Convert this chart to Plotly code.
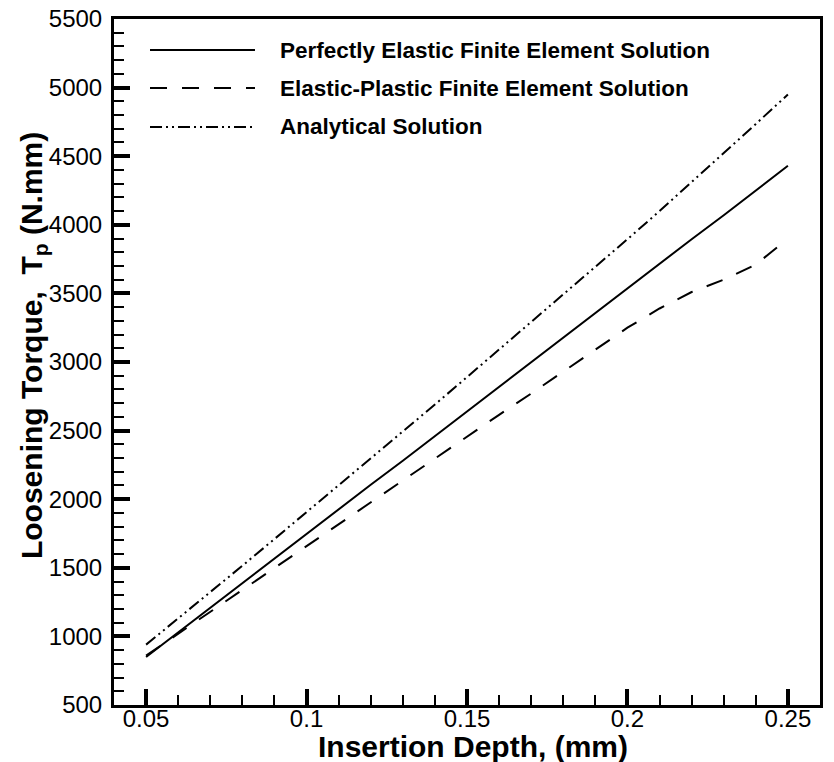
import plotly.graph_objects as go

# insertion depth (mm)
depth = [0.05, 0.06, 0.07, 0.08, 0.09, 0.10, 0.11, 0.12, 0.13, 0.14, 0.15,
         0.16, 0.17, 0.18, 0.19, 0.20, 0.21, 0.22, 0.23, 0.24, 0.25]

# loosening torque (N.mm)
elastic_fe = [850, 1030, 1210, 1390, 1565, 1745, 1925, 2105, 2280, 2460, 2640,
              2820, 3000, 3175, 3355, 3535, 3715, 3895, 4070, 4250, 4430]
elastic_plastic_fe = [860, 1020, 1180, 1340, 1500, 1655, 1815, 1975, 2135, 2295, 2455,
                      2615, 2770, 2930, 3090, 3250, 3390, 3510, 3600, 3710, 3900]
analytical = [940, 1130, 1325, 1515, 1710, 1905, 2100, 2295, 2495, 2690, 2890,
              3090, 3290, 3490, 3690, 3895, 4100, 4310, 4520, 4735, 4950]

series_names = ["Perfectly Elastic Finite Element Solution",
                "Elastic-Plastic Finite Element Solution",
                "Analytical Solution"]

FONT = "Arial, Liberation Sans, sans-serif"
DASHES = ["solid", "17px,15px", "12px,4px,2px,4px,2px,4px"]

fig = go.Figure()
for name, ys, dash in zip(series_names, [elastic_fe, elastic_plastic_fe, analytical], DASHES):
    fig.add_trace(go.Scatter(x=depth, y=ys, mode="lines", name=name, showlegend=False,
                             line=dict(color="black", width=2, dash=dash)))

# hand-made legend with long line samples
row_y = [0.9548, 0.8994, 0.8426]
for name, dash, y in zip(series_names, DASHES, row_y):
    fig.add_shape(type="line", xref="paper", yref="paper", x0=0.0510, x1=0.1997, y0=y, y1=y,
                  line=dict(color="black", width=2, dash=dash))
    fig.add_annotation(xref="paper", yref="paper", x=0.2326, y=y, text=f"<b>{name}</b>",
                       showarrow=False, xanchor="left", yanchor="middle",
                       font=dict(family=FONT, size=22.5, color="black"))

# axis titles
fig.add_annotation(xref="paper", yref="paper", x=0.5085, y=-0.0598, text="<b>Insertion Depth, (mm)</b>",
                   showarrow=False, xanchor="center", yanchor="middle",
                   font=dict(family=FONT, size=30, color="black"))
fig.add_annotation(xref="paper", yref="paper", x=-0.1147, y=0.5233, textangle=-90,
                   text="<b>Loosening Torque,  T<sub>p</sub> (N.mm)</b>",
                   showarrow=False, xanchor="center", yanchor="middle",
                   font=dict(family=FONT, size=30, color="black"))

axis_common = dict(
    showline=True, linewidth=3, linecolor="black", mirror=True,
    ticks="inside", ticklen=16, tickwidth=4, tickcolor="black",
    showgrid=False, zeroline=False, ticklabeloverflow="allow",
    tickfont=dict(family=FONT, size=24, color="black"),
)

fig.update_xaxes(
    range=[0.04, 0.26], tick0=0.05, dtick=0.05, ticklabelstandoff=-10,
    minor=dict(ticks="inside", ticklen=10, tickwidth=2, tickcolor="black", dtick=0.01, showgrid=False),
    **axis_common,
)
fig.update_yaxes(
    range=[500, 5500], tick0=500, dtick=500, ticklabelstandoff=4,
    minor=dict(ticks="inside", ticklen=10, tickwidth=2, tickcolor="black", dtick=100, showgrid=False),
    **axis_common,
)

fig.update_layout(
    width=834, height=762,
    margin=dict(l=106, r=22, t=11, b=65, autoexpand=False),
    plot_bgcolor="white", paper_bgcolor="white",
)

fig.write_html("out.html")
